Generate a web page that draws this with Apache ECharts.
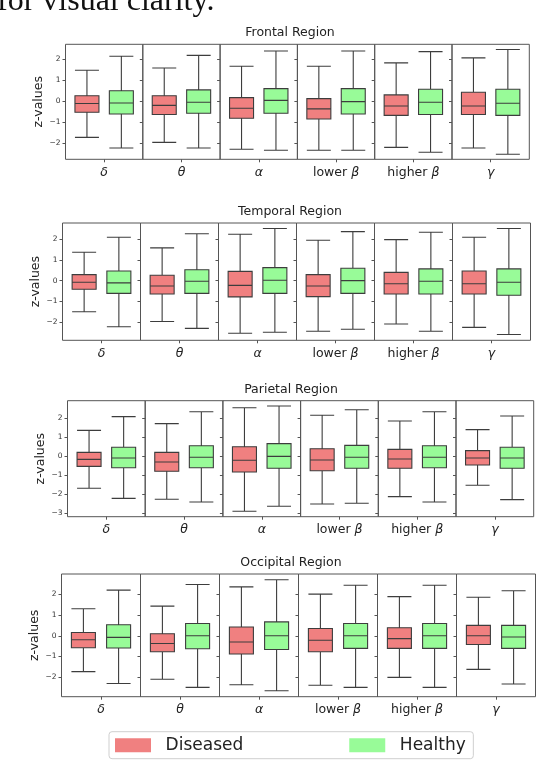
<!DOCTYPE html>
<html><head><meta charset="utf-8">
<script src="https://cdn.jsdelivr.net/npm/echarts@6/dist/echarts.min.js"></script>
<style>html,body{margin:0;padding:0;background:#fff}#c{width:538px;height:770px}</style>
</head><body><div id="c"></div>
<script>
// ---------- data ----------
const regions = ['Frontal Region', 'Temporal Region', 'Parietal Region', 'Occipital Region'];
const bands = ['δ', 'θ', 'α', 'lower β', 'higher β', 'γ'];
const groups = ['Diseased', 'Healthy'];

// each box: [min, Q1, median, Q3, max]
const frontalDiseased = [[-1.74,-0.54,-0.12,0.25,1.47],[-1.98,-0.65,-0.21,0.25,1.58],[-2.31,-0.83,-0.35,0.16,1.66],[-2.36,-0.86,-0.38,0.11,1.66],[-2.22,-0.69,-0.24,0.29,1.82],[-2.25,-0.65,-0.24,0.42,2.06]];
const frontalHealthy  = [[-2.25,-0.62,-0.10,0.49,2.14],[-2.25,-0.59,-0.06,0.53,2.18],[-2.36,-0.59,0.03,0.59,2.39],[-2.36,-0.62,-0.03,0.59,2.39],[-2.45,-0.65,-0.06,0.56,2.36],[-2.55,-0.69,-0.11,0.56,2.46]];
const temporalDiseased = [[-1.51,-0.42,-0.08,0.29,1.38],[-1.99,-0.65,-0.26,0.26,1.59],[-2.56,-0.79,-0.23,0.45,2.25],[-2.46,-0.78,-0.26,0.29,1.96],[-2.11,-0.65,-0.15,0.40,1.99],[-2.27,-0.65,-0.15,0.47,2.11]];
const temporalHealthy  = [[-2.24,-0.62,-0.11,0.47,2.11],[-2.32,-0.62,-0.03,0.53,2.28],[-2.51,-0.62,0.02,0.63,2.53],[-2.36,-0.62,0.00,0.60,2.38],[-2.46,-0.65,-0.03,0.57,2.35],[-2.62,-0.71,-0.08,0.57,2.53]];
const parietalDiseased = [[-1.69,-0.53,-0.16,0.21,1.37],[-2.27,-0.79,-0.30,0.21,1.73],[-2.90,-0.83,-0.21,0.51,2.57],[-2.52,-0.76,-0.19,0.40,2.17],[-2.13,-0.63,-0.14,0.37,1.87],[-1.53,-0.46,-0.09,0.30,1.41]];
const parietalHealthy  = [[-2.22,-0.60,-0.09,0.48,2.10],[-2.41,-0.60,-0.05,0.56,2.36],[-2.64,-0.63,0.00,0.67,2.66],[-2.48,-0.63,-0.05,0.58,2.46],[-2.41,-0.60,-0.05,0.56,2.36],[-2.29,-0.63,-0.09,0.48,2.13]];
const occipitalDiseased = [[-1.73,-0.58,-0.19,0.16,1.30],[-2.10,-0.77,-0.37,0.10,1.43],[-2.36,-0.88,-0.30,0.42,2.36],[-2.39,-0.77,-0.22,0.35,2.01],[-2.01,-0.61,-0.14,0.39,1.89],[-1.62,-0.42,0.00,0.50,1.86]];
const occipitalHealthy  = [[-2.30,-0.59,-0.08,0.53,2.20],[-2.49,-0.63,0.00,0.59,2.47],[-2.65,-0.66,0.00,0.67,2.70],[-2.49,-0.61,0.00,0.59,2.44],[-2.49,-0.61,0.00,0.59,2.44],[-2.33,-0.61,-0.06,0.50,2.17]];

// y-axis extents and tick labels per region
const yMin = [-2.79, -2.90, -3.19, -2.94];
const yMax = [2.71, 2.80, 2.94, 2.98];
const yTicksFrontal = [-2, -1, 0, 1, 2];
const yTicksTemporal = [-2, -1, 0, 1, 2];
const yTicksParietal = [-3, -2, -1, 0, 1, 2];
const yTicksOccipital = [-2, -1, 0, 1, 2, 3];

const topText = 'for visual clarity.';

// ---------- build ----------
const diseasedByRegion = [frontalDiseased, temporalDiseased, parietalDiseased, occipitalDiseased];
const healthyByRegion = [frontalHealthy, temporalHealthy, parietalHealthy, occipitalHealthy];
const ticksByRegion = [yTicksFrontal, yTicksTemporal, yTicksParietal, yTicksOccipital];

const layout = [
  {left: 65.5, width: 77.3, top: 44.3, height: 115.0, titleX: 290, titleY: 33.3, nameGap: 18.5},
  {left: 62.5, width: 78.0, top: 223.0, height: 117.3, titleX: 290, titleY: 212.3, nameGap: 17.5},
  {left: 67.5, width: 77.7, top: 400.7, height: 116.0, titleX: 291, titleY: 390.7, nameGap: 18.3},
  {left: 61.5, width: 79.0, top: 574.0, height: 122.7, titleX: 291, titleY: 563.3, nameGap: 17.0}
];
const fills = {Diseased: '#F08080', Healthy: '#98FB98'};
const lineCol = '#3d3d3d';
const frameCol = '#555555';
const FONT = 'DejaVu Sans';

const grids = [], xAxes = [], yAxes = [], series = [], titles = [];
const minusFmt = v => (v < 0 ? '\u2212' + (-v) : String(v));
const bandFmt = v => {
  const i = v.indexOf(' ');
  if (i > 0) return '{n|' + v.slice(0, i) + ' }{g|' + v.slice(i + 1) + '}';
  return '{g|' + v + '}';
};

regions.forEach((reg, r) => {
  const L = layout[r];
  titles.push({
    text: reg, left: L.titleX, top: L.titleY - 7, textAlign: 'center', padding: 0,
    textStyle: {fontSize: 12.5, fontWeight: 'normal', color: '#222', fontFamily: FONT}
  });
  bands.forEach((band, b) => {
    const gi = r * bands.length + b;
    grids.push({
      left: L.left + b * L.width, top: L.top, width: L.width, height: L.height,
      show: true, borderColor: frameCol, borderWidth: 1, backgroundColor: 'transparent',
      containLabel: false
    });
    xAxes.push({
      type: 'category', gridIndex: gi, data: [band], position: 'bottom',
      axisLine: {show: false, onZero: false},
      axisTick: {show: true, alignWithLabel: true, length: 3, lineStyle: {color: frameCol}},
      axisLabel: {
        margin: 7, color: '#222', formatter: bandFmt,
        rich: {
          n: {fontSize: 12.5, fontFamily: FONT, color: '#222'},
          g: {fontSize: 12.5, fontFamily: FONT, fontStyle: 'italic', color: '#222'}
        }
      },
      splitLine: {show: false}
    });
    yAxes.push({
      type: 'value', gridIndex: gi, min: yMin[r], max: yMax[r],
      axisLine: {show: false, onZero: false}, splitLine: {show: false},
      axisTick: {show: true, length: 3, customValues: ticksByRegion[r], lineStyle: {color: frameCol}},
      axisLabel: {
        show: b === 0, customValues: ticksByRegion[r], fontSize: 7.5, color: '#333',
        fontFamily: FONT, margin: 5, formatter: minusFmt
      },
      name: b === 0 ? 'z-values' : '',
      nameLocation: 'middle', nameRotate: 90, nameGap: L.nameGap,
      nameTextStyle: {fontSize: 12.5, color: '#222', fontFamily: FONT}
    });
    [diseasedByRegion[r][b], healthyByRegion[r][b]].forEach((vals, k) => {
      series.push({
        type: 'boxplot', name: groups[k], xAxisIndex: gi, yAxisIndex: gi,
        data: [vals], boxWidth: [24, 24], silent: true,
        itemStyle: {color: fills[groups[k]], borderColor: lineCol, borderWidth: 1.1},
        emphasis: {disabled: true}
      });
    });
  });
});

const chart = echarts.init(document.getElementById('c'), null, {renderer: 'canvas'});
chart.setOption({
  animation: false,
  backgroundColor: '#ffffff',
  textStyle: {fontFamily: FONT},
  title: titles,
  grid: grids,
  xAxis: xAxes,
  yAxis: yAxes,
  series: series,
  legend: {
    data: [
      {name: 'Diseased', itemStyle: {color: fills.Diseased, borderWidth: 0}},
      {name: 'Healthy', itemStyle: {color: fills.Healthy, borderWidth: 0}}
    ],
    selectedMode: false, left: 109, top: 731.7, orient: 'horizontal',
    icon: 'rect', itemWidth: 36, itemHeight: 14, itemGap: 106,
    padding: [5, 7.6, 5, 6], borderColor: '#cfcfcf', borderWidth: 1, borderRadius: 3,
    backgroundColor: '#ffffff',
    textStyle: {fontSize: 17, color: '#222', fontFamily: FONT, padding: [0, 0, 0, 9.6]}
  },
  graphic: [{
    type: 'text', x: -3, y: 1.2, silent: true,
    style: {text: topText, fontSize: 32, fontFamily: 'Liberation Serif', fill: '#111', verticalAlign: 'middle'}
  }]
});
</script>
</body></html>
